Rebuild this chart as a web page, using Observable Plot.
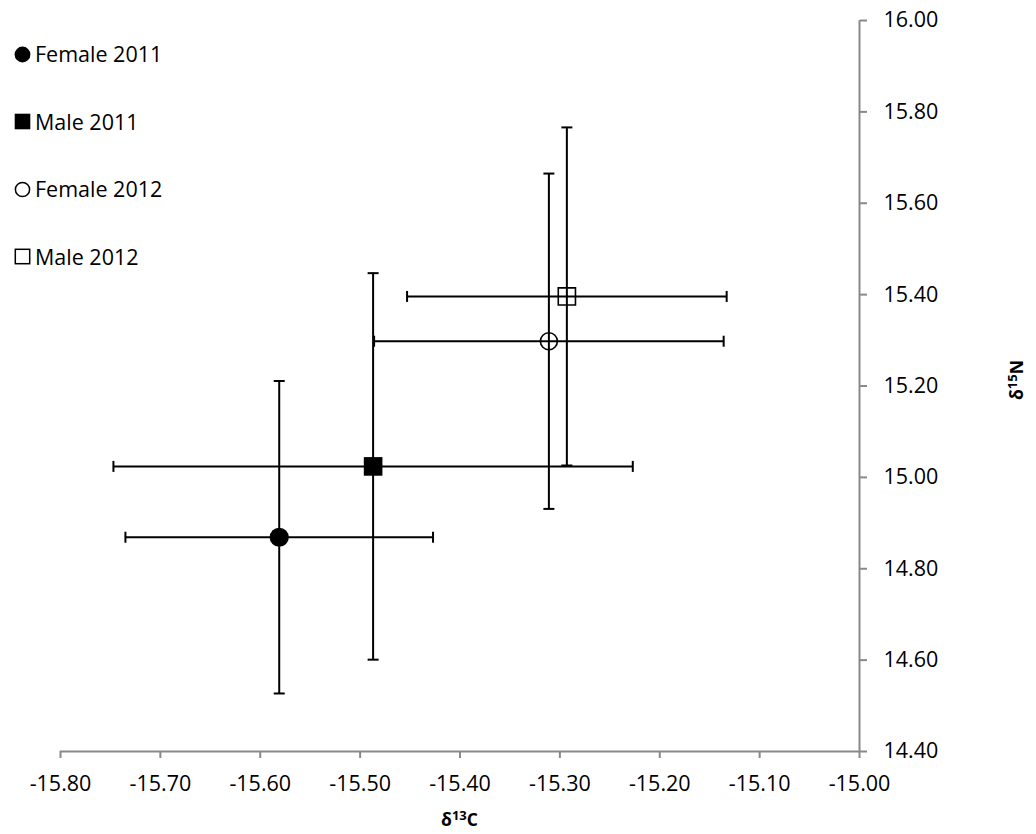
<!DOCTYPE html>
<html>
<head>
<meta charset="utf-8">
<script src="https://cdn.jsdelivr.net/npm/d3@7"></script>
<script src="https://cdn.jsdelivr.net/npm/@observablehq/plot@0.6"></script>
<style>
  html, body { margin: 0; padding: 0; background: #fff; }
  #wrap { position: relative; width: 1036px; height: 834px; overflow: hidden; font-family: "Open Sans", sans-serif; color: #000; }
  #wrap svg { display: block; }
  .leg { position: absolute; left: 14px; height: 24px; display: flex; align-items: center; font-size: 21.5px; line-height: 24px; white-space: nowrap; }
  .leg svg { margin-right: 4px; overflow: visible; }
  .atitle { position: absolute; font-weight: bold; font-size: 17.5px; line-height: 1; white-space: nowrap; }
  .atitle .sup { font-size: 13px; position: relative; top: -6px; }
</style>
</head>
<body>
<div id="wrap"></div>
<script>
// ---- data ----
const series   = ["Female 2011", "Male 2011", "Female 2012", "Male 2012"];
const d13C     = [-15.581, -15.487, -15.311, -15.293];
const d13C_err = [0.154, 0.260, 0.175, 0.160];
const d15N     = [14.869, 15.024, 15.298, 15.396];
const d15N_err = [0.342, 0.423, 0.367, 0.370];
const xTicks   = [-15.8, -15.7, -15.6, -15.5, -15.4, -15.3, -15.2, -15.1, -15.0];
const yTicks   = [14.4, 14.6, 14.8, 15.0, 15.2, 15.4, 15.6, 15.8, 16.0];
const xTitle   = ["δ", "13", "C"];
const yTitle   = ["δ", "15", "N"];

// ---- styles (kept separate from data) ----
const symbolOf = {"Female 2011": "circle", "Male 2011": "square", "Female 2012": "circle", "Male 2012": "square"};
const filledOf = {"Female 2011": true, "Male 2011": true, "Female 2012": false, "Male 2012": false};
const rOf = {"Female 2011": 9.6, "Male 2011": 10.5, "Female 2012": 8.5, "Male 2012": 9.7};
const axisGray = "#898989";

const data = series.map((s, i) => ({
  s, x: d13C[i], y: d15N[i],
  x1: d13C[i] - d13C_err[i], x2: d13C[i] + d13C_err[i],
  y1: d15N[i] - d15N_err[i], y2: d15N[i] + d15N_err[i]
}));

const hCap = {draw(ctx, size) { const r = Math.sqrt(size / Math.PI); ctx.moveTo(-r, 0); ctx.lineTo(r, 0); }};
const vCap = {draw(ctx, size) { const r = Math.sqrt(size / Math.PI); ctx.moveTo(0, -r); ctx.lineTo(0, r); }};

const fmt = d => d.toFixed(2);

// one marker mark per series so that each keeps a constant pixel radius
const markerMarks = data.map(d => Plot.dot([d], {
  x: "x", y: "y",
  symbol: symbolOf[d.s],
  r: rOf[d.s],
  fill: filledOf[d.s] ? "#000" : "none",
  stroke: filledOf[d.s] ? "none" : "#000",
  strokeWidth: 1.6
}));

const chart = Plot.plot({
  width: 1036,
  height: 834,
  marginLeft: 60,
  marginRight: 177,
  marginTop: 20,
  marginBottom: 83,
  x: {domain: [-15.8, -15.0]},
  y: {domain: [14.4, 16.0]},
  style: {fontFamily: "'Open Sans', sans-serif", fontSize: "21.5px", color: "#000", background: "#fff"},
  marks: [
    Plot.ruleY([14.4], {stroke: axisGray, strokeWidth: 2}),
    Plot.ruleX([-15.0], {stroke: axisGray, strokeWidth: 2}),
    Plot.axisX({ticks: xTicks, tickFormat: fmt, tickSize: 7, tickPadding: 17, stroke: axisGray, strokeWidth: 2, fill: "#000", label: null}),
    Plot.axisY({anchor: "right", ticks: yTicks, tickFormat: fmt, tickSize: 7, tickPadding: 17, stroke: axisGray, strokeWidth: 2, fill: "#000", label: null}),
    // error bars
    Plot.ruleY(data, {y: "y", x1: "x1", x2: "x2", stroke: "#000", strokeWidth: 2}),
    Plot.ruleX(data, {x: "x", y1: "y1", y2: "y2", stroke: "#000", strokeWidth: 2}),
    Plot.dot(data, {x: "x1", y: "y", symbol: vCap, r: 5.5, stroke: "#000", strokeWidth: 2, fill: "none"}),
    Plot.dot(data, {x: "x2", y: "y", symbol: vCap, r: 5.5, stroke: "#000", strokeWidth: 2, fill: "none"}),
    Plot.dot(data, {x: "x", y: "y1", symbol: hCap, r: 5.5, stroke: "#000", strokeWidth: 2, fill: "none"}),
    Plot.dot(data, {x: "x", y: "y2", symbol: hCap, r: 5.5, stroke: "#000", strokeWidth: 2, fill: "none"}),
    // markers
    ...markerMarks
  ]
});

const wrap = document.getElementById("wrap");
wrap.appendChild(chart);

// legend (HTML overlay, top-left of plot area)
const legendTop0 = 42, legendStep = 67.6;
series.forEach((s, i) => {
  const row = document.createElement("div");
  row.className = "leg";
  row.style.top = (legendTop0 + i * legendStep) + "px";
  const svg = d3.create("svg").attr("width", 17).attr("height", 17).attr("viewBox", "-8.5 -8.5 17 17");
  const isSq = symbolOf[s] === "square";
  const f = filledOf[s];
  if (isSq) {
    const a = f ? 15.6 : 14.4;
    svg.append("rect").attr("x", -a / 2).attr("y", -a / 2).attr("width", a).attr("height", a)
      .attr("fill", f ? "#000" : "none").attr("stroke", f ? "none" : "#000").attr("stroke-width", 1.5);
  } else {
    svg.append("circle").attr("r", f ? 7.9 : 7.1)
      .attr("fill", f ? "#000" : "none").attr("stroke", f ? "none" : "#000").attr("stroke-width", 1.5);
  }
  row.appendChild(svg.node());
  const t = document.createElement("span");
  t.textContent = s;
  row.appendChild(t);
  wrap.appendChild(row);
});

// axis titles
function title(parts) {
  const el = document.createElement("div");
  el.className = "atitle";
  el.append(parts[0]);
  const sp = document.createElement("span");
  sp.className = "sup";
  sp.textContent = parts[1];
  el.append(sp);
  el.append(parts[2]);
  return el;
}
const xt = title(xTitle);
xt.style.left = "459.5px";
xt.style.top = "811px";
xt.style.transform = "translateX(-50%)";
wrap.appendChild(xt);

const yt = title(yTitle);
yt.style.left = "1017px";
yt.style.top = "380px";
yt.style.transform = "translate(-50%, -50%) rotate(-90deg)";
wrap.appendChild(yt);
</script>
</body>
</html>
